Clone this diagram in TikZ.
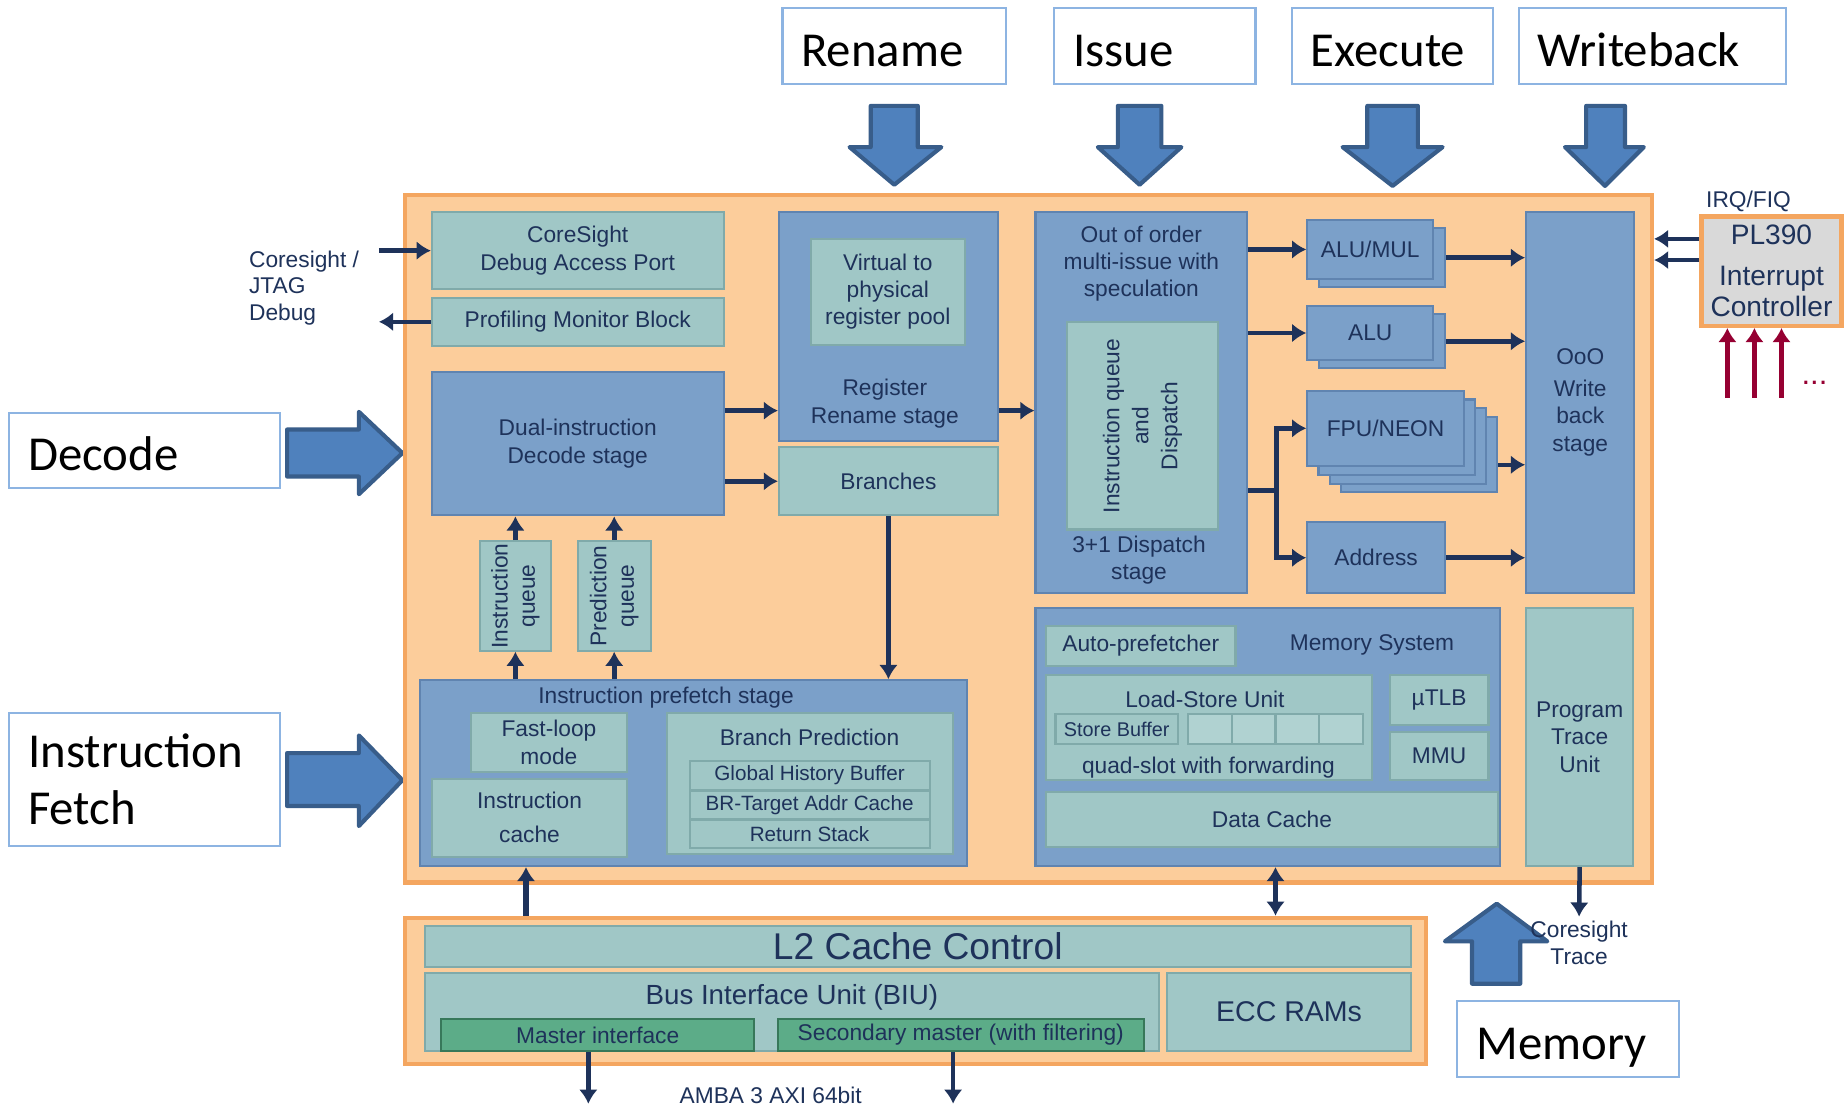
\documentclass[tikz,border=0pt]{standalone}
\usepackage{fontspec}
\setmainfont{Liberation Sans}
\newfontfamily\lblfont{Carlito}
\usetikzlibrary{arrows.meta}

\definecolor{coreorange}{RGB}{252,205,155}
\definecolor{coreedge}{RGB}{244,166,96}
\definecolor{tealfill}{RGB}{160,199,198}
\definecolor{tealedge}{RGB}{128,170,170}
\definecolor{slotfill}{RGB}{176,210,209}
\definecolor{bluefill}{RGB}{123,160,201}
\definecolor{blueedge}{RGB}{96,132,176}
\definecolor{navy}{RGB}{30,50,90}
\definecolor{greenfill}{RGB}{92,172,136}
\definecolor{greenedge}{RGB}{55,120,90}
\definecolor{arrowfill}{RGB}{79,129,189}
\definecolor{arrowedge}{RGB}{56,93,138}
\definecolor{lblborder}{RGB}{141,180,226}
\definecolor{plgray}{RGB}{217,217,217}
\definecolor{irqred}{RGB}{150,0,50}

\newcommand{\blkfont}{\fontsize{5.5}{6.6}\selectfont}

\tikzset{
  tealbox/.style={draw=tealedge, fill=tealfill, line width=0.5pt, inner sep=0pt, align=center, font=\blkfont, text=navy},
  bluebox/.style={draw=blueedge, fill=bluefill, line width=0.5pt, inner sep=0pt, align=center, font=\blkfont, text=navy},
  greenbox/.style={draw=greenedge, fill=greenfill, line width=0.5pt, inner sep=0pt, font=\blkfont, text=navy},
  corebox/.style={draw=coreedge, fill=coreorange, line width=1pt, inner sep=0pt},
  lblbox/.style={draw=lblborder, fill=white, line width=0.5pt, align=left, inner xsep=0.16cm, inner ysep=0pt, font={\lblfont\fontsize{11.8}{13.7}\selectfont}},
  oneline/.style={text height=9.8pt, text depth=0pt},
  txt/.style={font=\blkfont, text=navy, align=center, inner sep=0pt},
  blkarrow/.style={fill=arrowfill, draw=arrowedge, line width=1pt, line join=round},
  flow/.style={->, line width=1.1pt, draw=navy},
  irq/.style={->, line width=1.1pt, draw=irqred}
}

\begin{document}
\begin{tikzpicture}[x=1cm,y=-1cm,>={Latex[length=1.2mm,width=1.6mm]}]
  \fill[white] (0,0) rectangle (15.68,9.41);
  \useasboundingbox (0,0) rectangle (15.68,9.41);

  % Pipeline labels
  \node[lblbox, oneline, text width=1.58cm, minimum height=0.64cm] (Rename) at (7.60,0.39) {Rename};
  \node[lblbox, oneline, text width=1.39cm, minimum height=0.64cm] (Issue) at (9.815,0.39) {Issue};
  \node[lblbox, oneline, text width=1.39cm, minimum height=0.64cm] (Execute) at (11.835,0.39) {Execute};
  \node[lblbox, oneline, text width=1.95cm, minimum height=0.64cm] (Writeback) at (14.045,0.39) {Writeback};
  \node[lblbox, oneline, text width=1.98cm, minimum height=0.64cm] (Decode) at (1.23,3.83) {Decode};
  \node[lblbox, text width=1.98cm, minimum height=1.13cm] (Fetch) at (1.23,6.625) {Instruction\\Fetch};
  \node[lblbox, oneline, text width=1.55cm, minimum height=0.64cm, inner xsep=0.17cm] (Memory) at (13.325,8.83) {Memory};

  % Block arrows
  \draw[blkarrow] (7.40,0.90) -- (7.80,0.90) -- (7.80,1.25) -- (8.00,1.25) -- (7.60,1.57) -- (7.22,1.25) -- (7.40,1.25) -- cycle;
  \draw[blkarrow] (9.50,0.90) -- (9.87,0.90) -- (9.87,1.25) -- (10.04,1.25) -- (9.685,1.57) -- (9.33,1.25) -- (9.50,1.25) -- cycle;
  \draw[blkarrow] (11.62,0.90) -- (12.05,0.90) -- (12.05,1.25) -- (12.26,1.25) -- (11.835,1.58) -- (11.41,1.25) -- (11.62,1.25) -- cycle;
  \draw[blkarrow] (13.48,0.90) -- (13.81,0.90) -- (13.81,1.25) -- (13.97,1.25) -- (13.64,1.58) -- (13.30,1.25) -- (13.48,1.25) -- cycle;
  \draw[blkarrow] (2.44,3.65) -- (3.05,3.65) -- (3.05,3.50) -- (3.42,3.85) -- (3.05,4.20) -- (3.05,4.05) -- (2.44,4.05) -- cycle;
  \draw[blkarrow] (2.44,6.40) -- (3.05,6.40) -- (3.05,6.25) -- (3.42,6.63) -- (3.05,7.02) -- (3.05,6.85) -- (2.44,6.85) -- cycle;
  \draw[blkarrow] (12.51,8.36) -- (12.51,8.00) -- (12.28,8.00) -- (12.72,7.68) -- (13.15,8.00) -- (12.92,8.00) -- (12.92,8.36) -- cycle;

  % Core and L2 frames
  \node[corebox, minimum width=10.60cm, minimum height=5.84cm] (Core) at (8.74,4.58) {};
  \node[corebox, minimum width=8.68cm, minimum height=1.24cm] (L2) at (7.78,8.42) {};

  % Debug and decode
  \node[tealbox, minimum width=2.48cm, minimum height=0.66cm] (Dap) at (4.91,2.13) {CoreSight\\Debug Access Port};
  \node[tealbox, minimum width=2.48cm, minimum height=0.41cm] (Pmb) at (4.91,2.735) {Profiling Monitor Block};
  \node[bluebox, minimum width=2.48cm, minimum height=1.22cm] (Dec) at (4.91,3.77) {Dual-instruction\\Decode stage};
  \node[tealbox, rotate=90, minimum width=0.93cm, minimum height=0.60cm] (Iq) at (4.38,5.065) {Instruction\\queue};
  \node[tealbox, rotate=90, minimum width=0.93cm, minimum height=0.62cm] (Pq) at (5.22,5.065) {Prediction\\queue};
  \node[txt, anchor=west, align=left, font=\fontsize{5.5}{6.4}\selectfont] (Jtag) at (2.11,2.445) {Coresight /\\JTAG\\Debug};

  % Rename
  \node[bluebox, minimum width=1.86cm, minimum height=1.95cm] (Ren) at (7.55,2.775) {};
  \node[tealbox, minimum width=1.31cm, minimum height=0.90cm] (Vtp) at (7.545,2.48) {Virtual to\\physical\\register pool};
  \node[txt] (RenTxt) at (7.52,3.43) {Register\\Rename stage};
  \node[tealbox, minimum width=1.86cm, minimum height=0.58cm] (Br) at (7.55,4.09) {Branches};

  % Issue
  \node[bluebox, minimum width=1.80cm, minimum height=3.24cm] (Ooo) at (9.70,3.42) {};
  \node[txt] (OooTxt) at (9.70,2.24) {Out of order\\multi-issue with\\speculation};
  \node[tealbox, rotate=90, minimum width=1.76cm, minimum height=1.28cm, font=\fontsize{5.5}{7}\selectfont] (Iqd) at (9.71,3.62) {Instruction queue\\and\\Dispatch};
  \node[txt] (DispTxt) at (9.68,4.76) {3+1 Dispatch\\stage};

  % Execute
  \node[bluebox, minimum width=1.07cm, minimum height=0.50cm] (AluMulB) at (11.745,2.19) {};
  \node[bluebox, minimum width=1.07cm, minimum height=0.50cm] (AluMul) at (11.645,2.12) {ALU/MUL};
  \node[bluebox, minimum width=1.07cm, minimum height=0.46cm] (AluB) at (11.745,2.90) {};
  \node[bluebox, minimum width=1.07cm, minimum height=0.46cm] (Alu) at (11.645,2.83) {ALU};
  \foreach \k in {3,2,1}
    \node[bluebox, minimum width=1.33cm, minimum height=0.64cm] (Fpu\k) at ({11.775+0.095*\k},{3.64+0.075*\k}) {};
  \node[bluebox, minimum width=1.33cm, minimum height=0.64cm] (Fpu) at (11.775,3.64) {FPU/NEON};
  \node[bluebox, minimum width=1.17cm, minimum height=0.60cm] (Addr) at (11.695,4.74) {Address};

  % Writeback
  \node[bluebox, minimum width=0.92cm, minimum height=3.24cm] (Wb) at (13.43,3.42) {OoO\\[1pt]Write\\back\\stage};
  \node[draw=coreedge, fill=plgray, line width=1pt, inner sep=0pt, align=center, text=navy, font=\fontsize{6.8}{7.7}\selectfont, minimum width=1.19cm, minimum height=0.93cm] (Pl) at (15.055,2.305) {PL390\\[2pt]Interrupt\\Controller};
  \node[txt] (IrqTxt) at (14.86,1.71) {IRQ/FIQ};
  \node[txt, text=irqred, font=\fontsize{7.5}{8}\selectfont] (Dots) at (15.42,3.25) {...};

  % Memory system
  \node[bluebox, minimum width=3.95cm, minimum height=2.19cm] (MemSys) at (10.775,6.265) {};
  \node[tealbox, minimum width=1.61cm, minimum height=0.34cm] (Apf) at (9.695,5.49) {Auto-prefetcher};
  \node[txt] (MemTxt) at (11.66,5.48) {Memory System};
  \node[tealbox, minimum width=2.77cm, minimum height=0.89cm] (Lsu) at (10.275,6.185) {};
  \node[txt] (LsuTxt) at (10.24,5.94) {Load-Store Unit};
  \node[tealbox, minimum width=1.04cm, minimum height=0.25cm, font=\fontsize{4.8}{5.5}\selectfont] (Sb) at (9.49,6.195) {Store Buffer};
  \foreach \x [count=\i] in {10.285,10.655,11.025,11.395}
    \node[tealbox, fill=slotfill, minimum width=0.37cm, minimum height=0.25cm] (Slot\i) at (\x,6.195) {};
  \node[txt] (QuadTxt) at (10.27,6.52) {quad-slot with forwarding};
  \node[tealbox, minimum width=0.84cm, minimum height=0.42cm] (Ut) at (12.23,5.95) {\textmu TLB};
  \node[tealbox, minimum width=0.84cm, minimum height=0.41cm] (Mmu) at (12.23,6.425) {MMU};
  \node[tealbox, minimum width=3.84cm, minimum height=0.47cm] (Dc) at (10.81,6.965) {Data Cache};
  \node[tealbox, minimum width=0.91cm, minimum height=2.19cm] (Ptu) at (13.425,6.265) {Program\\Trace\\Unit};

  % Prefetch
  \node[bluebox, minimum width=4.65cm, minimum height=1.58cm] (Pf) at (5.895,6.57) {};
  \node[txt] (PfTxt) at (5.66,5.93) {Instruction prefetch stage};
  \node[tealbox, minimum width=1.33cm, minimum height=0.50cm] (Fl) at (4.665,6.31) {Fast-loop\\mode};
  \node[tealbox, minimum width=1.66cm, minimum height=0.66cm] (Ic) at (4.50,6.95) {Instruction\\[1.6pt]cache};
  \node[tealbox, minimum width=2.43cm, minimum height=1.20cm] (Bp) at (6.885,6.66) {};
  \node[txt] (BpTxt) at (6.88,6.27) {Branch Prediction};
  \node[tealbox, minimum width=2.04cm, minimum height=0.24cm, font=\fontsize{5}{6}\selectfont] (Ghb) at (6.88,6.59) {Global History Buffer};
  \node[tealbox, minimum width=2.04cm, minimum height=0.24cm, font=\fontsize{5}{6}\selectfont] (Btac) at (6.88,6.84) {BR-Target Addr Cache};
  \node[tealbox, minimum width=2.04cm, minimum height=0.24cm, font=\fontsize{5}{6}\selectfont] (Rs) at (6.88,7.09) {Return Stack};

  % L2
  \node[tealbox, minimum width=8.38cm, minimum height=0.35cm, font=\fontsize{9}{10}\selectfont] (L2c) at (7.80,8.045) {L2 Cache Control};
  \node[tealbox, minimum width=6.24cm, minimum height=0.66cm] (Biu) at (6.73,8.60) {};
  \node[txt, font=\fontsize{6.7}{8}\selectfont] (BiuTxt) at (6.73,8.48) {Bus Interface Unit (BIU)};
  \node[tealbox, minimum width=2.07cm, minimum height=0.66cm, font=\fontsize{6.9}{8}\selectfont] (Ecc) at (10.955,8.60) {ECC RAMs};
  \node[greenbox, minimum width=2.66cm, minimum height=0.27cm] (Mst) at (5.08,8.795) {Master interface};
  \node[greenbox, minimum width=3.11cm, minimum height=0.27cm] (Sec) at (8.165,8.795) {Secondary master (with filtering)};
  \node[txt] (AmbaTxt) at (6.55,9.31) {AMBA 3 AXI 64bit};
  \node[txt] (TraceTxt) at (13.42,8.01) {Coresight\\Trace};

  % Connectors
  \coordinate (JtagIn) at (3.22,2.13);
  \coordinate (JtagOut) at (3.22,2.735);
  \coordinate (Split) at (10.85,4.17);
  \coordinate (Trace) at (13.42,7.79);
  \coordinate (Axi1) at (5.00,9.38);
  \coordinate (Axi2) at (8.10,9.38);

  \draw[flow] (JtagIn) -- (Dap.west);
  \draw[flow] (Pmb.west) -- (JtagOut);
  \draw[flow] (Dec.east |- 0,3.49) -- (Ren.west |- 0,3.49);
  \draw[flow] (Dec.east |- Br) -- (Br.west);
  \draw[flow] (Iq.east) -- (Iq.east |- Dec.south);
  \draw[flow] (Pq.east) -- (Pq.east |- Dec.south);
  \draw[flow] (Iq.west |- Pf.north) -- (Iq.west);
  \draw[flow] (Pq.west |- Pf.north) -- (Pq.west);
  \draw[flow] (Br.south) -- (Br.south |- Pf.north);
  \draw[flow] (Ren.east |- 0,3.49) -- (Ooo.west |- 0,3.49);
  \draw[flow] (Ooo.east |- AluMul) -- (AluMul.west);
  \draw[flow] (Ooo.east |- Alu) -- (Alu.west);
  \draw[line width=1.1pt, navy] (Ooo.east |- Split) -- (Split);
  \draw[flow] (Split) |- (Fpu.west);
  \draw[flow] (Split) |- (Addr.west);
  \draw[flow] (AluMulB.east) -- (Wb.west |- AluMulB);
  \draw[flow] (AluB.east) -- (Wb.west |- AluB);
  \draw[flow] (Fpu3.east |- 0,3.95) -- (Wb.west |- 0,3.95);
  \draw[flow] (Addr.east) -- (Wb.west |- Addr);
  \draw[flow] (Pl.west |- 0,2.03) -- (Core.east |- 0,2.03);
  \draw[flow] (Pl.west |- 0,2.21) -- (Core.east |- 0,2.21);
  \foreach \x in {14.68,14.91,15.14}
    \draw[irq] (\x,3.38) -- (Pl.south -| \x,0);
  \draw[flow, line width=1.4pt] (L2.north -| 4.47,0) -- (Pf.south -| 4.47,0);
  \draw[flow, <->] (MemSys.south -| 10.84,0) -- (L2.north -| 10.84,0);
  \draw[flow] (Ptu.south) -- (Trace);
  \draw[flow] (Mst.south -| Axi1) -- (Axi1);
  \draw[flow] (Sec.south -| Axi2) -- (Axi2);
\end{tikzpicture}
\end{document}
